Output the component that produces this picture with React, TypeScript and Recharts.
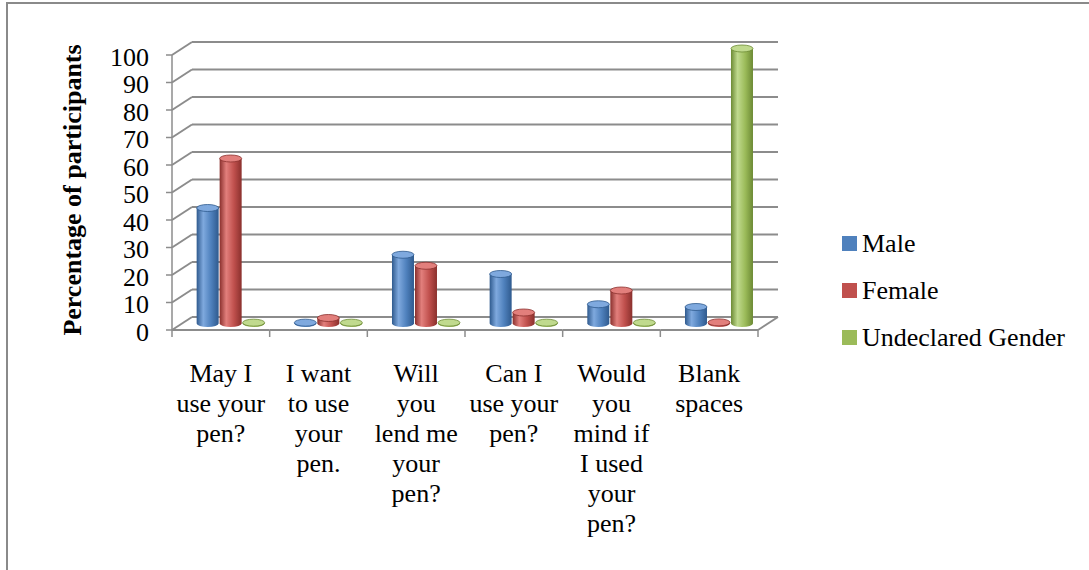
import React from 'react';
import { BarChart, Bar, XAxis, YAxis, CartesianGrid } from 'recharts';

// category labels, already broken into the lines shown under the axis
const categoryLines = [
  ['May I', 'use your', 'pen?'],
  ['I want', 'to use', 'your', 'pen.'],
  ['Will', 'you', 'lend me', 'your', 'pen?'],
  ['Can I', 'use your', 'pen?'],
  ['Would', 'you', 'mind if', 'I used', 'your', 'pen?'],
  ['Blank', 'spaces']
];
const categories = categoryLines.map((l) => l.join(' '));
const male = [42, 0.3, 25, 18, 7, 6];
const female = [60, 2, 21, 4, 12, 0.4];
const undeclared = [0.3, 0.3, 0.3, 0.3, 0.3, 100];
const yTicks = [0, 10, 20, 30, 40, 50, 60, 70, 80, 90, 100];

const series = [
  { key: 'male', name: 'Male', base: '#4f81bd', light: '#7fa9de', dark: '#2f5a8e' },
  { key: 'female', name: 'Female', base: '#c0504d', light: '#e27f7c', dark: '#8a302d' },
  { key: 'undeclared', name: 'Undeclared Gender', base: '#9bbb59', light: '#c0da8e', dark: '#6c8a34' }
];

const data = categories.map((name, i) => ({
  name,
  male: male[i],
  female: female[i],
  undeclared: undeclared[i]
}));

// back wall of the 3d plot, front face is shifted by DEPTH
const PLOT = { left: 192, right: 778, top: 42, bottom: 317 };
const DEPTH = { dx: 20, dy: 13 };
const FONT = '"Liberation Serif", "Times New Roman", serif';
const GRID = '#8c8c8c';

const Cylinder = (props: any) => {
  const { x, y, width, height, s } = props;
  if (x == null || y == null) return null;
  const rx = width / 2;
  const ry = 3.5;
  const x0 = x - DEPTH.dx / 2;
  const x1 = x0 + width;
  const top = y + DEPTH.dy / 2;
  const bot = y + height + DEPTH.dy / 2;
  return (
    <g>
      <path
        d={`M${x0},${top} L${x0},${bot} A${rx},${ry} 0 0 0 ${x1},${bot} L${x1},${top} Z`}
        fill={`url(#grad-${s.key})`}
      />
      <ellipse cx={x0 + rx} cy={top} rx={rx} ry={ry} fill={s.light} stroke={s.dark} strokeWidth={0.8} />
    </g>
  );
};

const XTick = (props: any) => {
  const { x, index } = props;
  const band = (PLOT.right - PLOT.left) / categories.length;
  const fx = x - DEPTH.dx;
  const fy = PLOT.bottom + DEPTH.dy;
  const l = fx - band / 2;
  const r = fx + band / 2;
  const last = index === categories.length - 1;
  const lines = categoryLines[index] || [];
  return (
    <g>
      <line x1={l} y1={fy} x2={r} y2={fy} stroke={GRID} strokeWidth={2} />
      <line x1={l} y1={fy} x2={l} y2={fy + 7} stroke={GRID} strokeWidth={1.5} />
      {last && (
        <g>
          <line x1={r} y1={fy} x2={r} y2={fy + 7} stroke={GRID} strokeWidth={1.5} />
          <line x1={r} y1={fy} x2={r + DEPTH.dx} y2={PLOT.bottom} stroke={GRID} strokeWidth={2} />
        </g>
      )}
      <text x={fx} y={fy + 52} textAnchor="middle" fontFamily={FONT} fontSize={26} fill="#000">
        {lines.map((t, i) => (
          <tspan key={i} x={fx} dy={i === 0 ? 0 : 30}>
            {t}
          </tspan>
        ))}
      </text>
    </g>
  );
};

const YTick = (props: any) => {
  const { y, payload } = props;
  const fx = PLOT.left - DEPTH.dx;
  const fy = y + DEPTH.dy;
  return (
    <g>
      <line x1={fx - 6} y1={fy} x2={fx} y2={fy} stroke={GRID} strokeWidth={1.5} />
      <line x1={fx} y1={fy} x2={PLOT.left} y2={y} stroke={GRID} strokeWidth={2} />
      {payload.value === 100 && (
        <line x1={fx} y1={fy} x2={fx} y2={PLOT.bottom + DEPTH.dy} stroke={GRID} strokeWidth={1.5} />
      )}
      <text x={149} y={fy + 2} textAnchor="end" dominantBaseline="central" fontFamily={FONT} fontSize={26} fill="#000">
        {payload.value}
      </text>
    </g>
  );
};

const App = () => (
  <div style={{ position: 'fixed', left: 0, top: 0, width: 1089, height: 570, background: '#fff', fontFamily: FONT }}>
    <div
      style={{
        position: 'absolute',
        left: 6,
        top: 2,
        width: 1200,
        height: 700,
        border: '2px solid #8a8a8a'
      }}
    />
    <div style={{ position: 'absolute', left: 0, top: 0 }}>
      <BarChart
        width={1089}
        height={570}
        data={data}
        margin={{ top: PLOT.top, right: 1089 - PLOT.right, bottom: 570 - PLOT.bottom - 1, left: PLOT.left - 1 }}
        barCategoryGap="15%"
        barGap={1}
      >
        <defs>
          {series.map((s) => (
            <linearGradient key={s.key} id={`grad-${s.key}`} x1="0" y1="0" x2="1" y2="0">
              <stop offset="0%" stopColor={s.dark} />
              <stop offset="30%" stopColor={s.light} />
              <stop offset="65%" stopColor={s.base} />
              <stop offset="100%" stopColor={s.dark} />
            </linearGradient>
          ))}
        </defs>
        <CartesianGrid vertical={false} stroke={GRID} strokeWidth={2} />
        <XAxis dataKey="name" height={1} axisLine={false} tickLine={false} interval={0} tick={<XTick />} />
        <YAxis
          width={1}
          domain={[0, 100]}
          ticks={yTicks}
          axisLine={false}
          tickLine={false}
          interval={0}
          tick={<YTick />}
        />
        {series.map((s) => (
          <Bar
            key={s.key}
            dataKey={s.key}
            name={s.name}
            fill={s.base}
            isAnimationActive={false}
            shape={(p: any) => <Cylinder {...p} s={s} />}
          />
        ))}
      </BarChart>
    </div>
    <div
      style={{
        position: 'absolute',
        left: 73,
        top: 190,
        transform: 'translate(-50%, -50%) rotate(-90deg)',
        whiteSpace: 'nowrap',
        fontWeight: 'bold',
        fontSize: 26,
        lineHeight: '30px',
        fontFamily: FONT
      }}
    >
      Percentage of participants
    </div>
    <div style={{ position: 'absolute', left: 842, top: 220, fontFamily: FONT }}>
      {series.map((s) => (
        <div key={s.key} style={{ height: 47, display: 'flex', alignItems: 'center', fontSize: 26, whiteSpace: 'nowrap', fontFamily: FONT }}>
          <span style={{ display: 'inline-block', width: 15, height: 15, background: s.base, marginRight: 5 }} />
          <span>{s.name}</span>
        </div>
      ))}
    </div>
  </div>
);

export default App;
